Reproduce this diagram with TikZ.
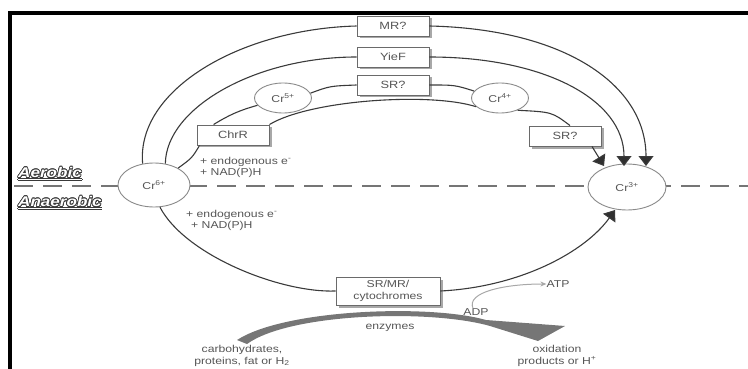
\documentclass[tikz,border=0pt]{standalone}
\usepackage{fontspec}
\setmainfont[FakeStretch=1.22]{Liberation Sans}
\usepackage{contour}
\contourlength{0.75pt}
\usetikzlibrary{shapes.geometric,arrows.meta,shadows}
\definecolor{linegray}{HTML}{3A3A3A}
\definecolor{circgray}{HTML}{8A8A8A}
\definecolor{boxgray}{HTML}{6A6A6A}
\definecolor{shadowgray}{HTML}{A8A8A8}
\definecolor{txtgray}{HTML}{555555}
\definecolor{tipgray}{HTML}{303030}
\definecolor{enzgray}{HTML}{767676}
\begin{document}
\begin{tikzpicture}[x=1pt,y=-1pt,
  conn/.style={draw=linegray, line width=1.1pt},
  tipped/.style={conn, -{Triangle[width=15pt,length=10pt,fill=tipgray]}},
  crnode/.style={ellipse, draw=circgray, fill=white, line width=0.9pt, inner sep=0pt,
    font=\fontsize{10}{11}\selectfont, text=txtgray},
  enzbox/.style={draw=boxgray, fill=white, line width=0.9pt, minimum width=72pt,
    minimum height=20pt, inner sep=0pt,
    drop shadow={shadow xshift=2.5pt, shadow yshift=-2.5pt, fill=shadowgray, opacity=1},
    font=\fontsize{10.5}{12}\selectfont, text=txtgray},
  small/.style={font=\fontsize{10}{11.5}\selectfont, text=txtgray, inner sep=0pt},
  zone/.style={font=\fontsize{14}{14}\selectfont\bfseries\itshape, inner sep=0pt}
]
\useasboundingbox (0,0) rectangle (748,369);
% frame
\coordinate (ftl) at (10,13);
\coordinate (ftr) at (748,13);
\coordinate (fbl) at (10,369);
\draw[line width=4pt, black] (fbl) -- (ftl) -- (ftr);
% aerobic / anaerobic divide
\coordinate (dl) at (14,186);
\coordinate (dr) at (748,186);
\draw[draw=circgray!85!black, line width=1.3pt, dash pattern=on 19pt off 10pt] (dl) -- (dr);

\node[zone, anchor=west] (aer) at (18,174) {\contour{linegray}{\textcolor{white}{\underline{Aerobic}}}};
\node[zone, anchor=west] (anaer) at (18,203) {\contour{linegray}{\textcolor{white}{\underline{Anaerobic}}}};

% enzyme boxes
\node[enzbox] (mr) at (393,26) {MR?};
\node[enzbox] (yief) at (393,57) {YieF};
\node[enzbox] (sra) at (393,85) {SR?};
\node[enzbox] (chrr) at (233,135) {ChrR};
\node[enzbox] (srb) at (565,136) {SR?};
\node[enzbox, minimum width=104pt, minimum height=28pt, align=center,
  font=\fontsize{10}{11.5}\selectfont] (srmr) at (388,291) {SR/MR/\\cytochromes};

% chromium species
\node[crnode, minimum width=57pt, minimum height=30pt] (cr5) at (283,98) {Cr\textsuperscript{5+}};
\node[crnode, minimum width=57pt, minimum height=30pt] (cr4) at (500,98) {Cr\textsuperscript{4+}};
\node[crnode, minimum width=72pt, minimum height=44pt] (cr6) at (154,185) {Cr\textsuperscript{6+}};
\node[crnode, minimum width=78pt, minimum height=46pt] (cr3) at (627,187) {Cr\textsuperscript{3+}};

% arrow ends on Cr3+
\coordinate (a1) at (604,166);
\coordinate (a2) at (624,166);
\coordinate (a3) at (646,166);
\coordinate (a4) at (615,210);

% outer MR arc
\draw[conn] (cr6.118) .. controls (136,90) and (240,29) .. (mr.west);
\draw[tipped] (mr.east) .. controls (565,29) and (646,85) .. (a3);
% YieF arc
\draw[conn] (cr6.62) .. controls (166,108) and (255,57) .. (yief.west);
\draw[tipped] (yief.east) .. controls (545,57) and (624,100) .. (a2);
% ChrR pathway
\draw[conn] (cr6.35) .. controls (192,158) .. ([xshift=3pt]chrr.south west);
\draw[conn] ([xshift=17pt]chrr.north west) to[bend left=8] (cr5.196);
\draw[conn] (chrr.north east) .. controls (310,100) and (430,92) .. (cr4.200);
\draw[conn] (cr5.10) .. controls (330,86) .. (sra.west);
\draw[conn] (sra.east) .. controls (455,85) .. (cr4.165);
\draw[conn] (cr4.-35) .. controls (552,112) .. ([xshift=5pt]srb.north);
\draw[tipped] ([xshift=27pt]srb.south) -- (a1);
% anaerobic pathway
\draw[conn] (cr6.-75) .. controls (185,255) and (280,293) .. (srmr.west);
\draw[tipped] (srmr.east) .. controls (520,287) and (585,252) .. (a4);

% electron donors
\node[small, anchor=north west, align=left] (donup) at (200,157) {+ endogenous e\textsuperscript{-}\\+ NAD(P)H};
\node[small, anchor=north west, align=left] (donlo) at (186,210) {+ endogenous e\textsuperscript{-}\\\hspace*{5pt}+ NAD(P)H};

% enzymes swoosh
\fill[enzgray] (237,340) .. controls (285,309) and (430,304) .. (486,320)
  -- (565,326) -- (538,341) -- (490,326)
  .. controls (430,309) and (290,313) .. (247,344) -- cycle;
\node[small] (enz) at (390,328) {enzymes};
\node[small, align=center] (carb) at (242,356) {carbohydrates,\\proteins, fat or H\textsubscript{2}};
\node[small, align=center] (oxid) at (557,356) {oxidation\\products or H\textsuperscript{+}};

% ADP -> ATP
\node[small] (adp) at (476,312) {ADP};
\node[small] (atp) at (558,284) {ATP};
\draw[draw=shadowgray, line width=1pt, -{Stealth[length=6pt,width=5pt]}] ([xshift=-3pt]adp.north) .. controls (466,292) and (505,284) .. (atp.west);
\end{tikzpicture}
\end{document}
